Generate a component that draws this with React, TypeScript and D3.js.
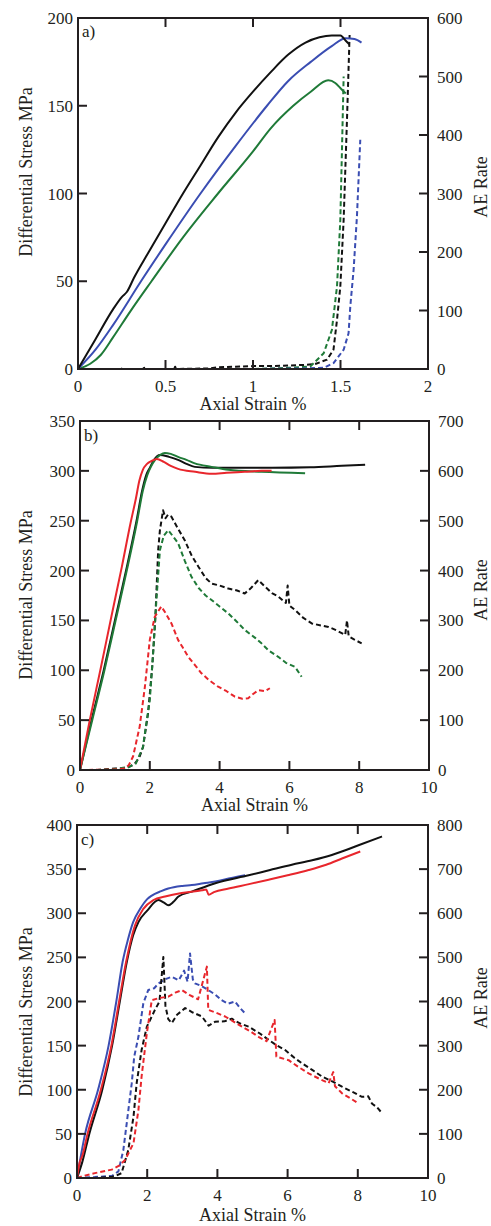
import React from "react";
import * as d3 from "d3";

type Pt = [number, number];

// ---------- colours ----------
const BLACK = "#111111";
const BLUE = "#3a4db2";
const GREEN = "#1f7a38";
const RED = "#e8262c";

// ---------- panel a ----------
const aXTicks = [0, 0.5, 1, 1.5, 2];
const aStressTicks = [0, 50, 100, 150, 200];
const aAETicks = [0, 100, 200, 300, 400, 500, 600];

const aBlackStress: Pt[] = [[0,0],[0.1,17],[0.2,34],[0.25,41],[0.28,44],[0.32,52],[0.4,66],[0.5,83],[0.6,100],[0.7,116],[0.8,132],[0.9,146],[1.0,158],[1.1,169],[1.2,179],[1.3,186],[1.38,189],[1.45,190],[1.5,190],[1.53,187],[1.55,185]];
const aBlueStress: Pt[] = [[0,0],[0.1,11],[0.2,25],[0.36,50],[0.5,71],[0.7,100],[0.9,127],[1.08,150],[1.2,164],[1.33,175],[1.45,184],[1.53,188.5],[1.58,188],[1.62,186]];
const aGreenStress: Pt[] = [[0,0],[0.07,3],[0.13,8],[0.2,18],[0.3,33],[0.42,50],[0.6,75],[0.8,100],[1.0,124],[1.1,137],[1.23,150],[1.33,158],[1.43,164.5],[1.47,163],[1.5,160],[1.53,157]];

const aBlackAE: Pt[] = [[0,0],[0.25,0],[0.255,4],[0.26,0],[0.37,0],[0.375,5],[0.38,0],[0.55,0],[0.555,4],[0.56,0],[0.75,1],[0.8,3],[0.9,4],[1.0,5],[1.1,5],[1.2,6],[1.3,7],[1.36,9],[1.423,16],[1.46,33],[1.48,84],[1.499,141],[1.518,255],[1.537,426],[1.552,571]];
const aGreenAE: Pt[] = [[0,0],[0.5,0],[1.0,0],[1.2,2],[1.327,4],[1.404,27],[1.451,67],[1.48,141],[1.499,255],[1.508,369],[1.518,500]];
const aBlueAE: Pt[] = [[0,0],[0.5,0],[1.0,0],[1.3,1],[1.404,2],[1.46,10],[1.518,33],[1.546,61],[1.556,107],[1.575,170],[1.594,261],[1.613,392]];

// ---------- panel b ----------
const bXTicks = [0, 2, 4, 6, 8, 10];
const bStressTicks = [0, 50, 100, 150, 200, 250, 300, 350];
const bAETicks = [0, 100, 200, 300, 400, 500, 600, 700];

const bRedStress: Pt[] = [[0,0],[0.28,50],[0.6,103],[0.9,154],[1.2,204],[1.45,248],[1.6,272],[1.7,290],[1.8,301],[1.92,307],[2.05,310],[2.2,312],[2.4,309],[2.6,305],[2.81,302],[3.3,299],[3.77,297],[4.2,298],[4.72,299],[5.2,300],[5.49,300]];
const bBlackStress: Pt[] = [[0,0],[0.33,50],[0.68,100],[1.0,150],[1.32,200],[1.62,250],[1.78,280],[1.9,296],[2.0,303],[2.12,311],[2.29,316],[2.55,314],[2.81,311],[3.05,307],[3.29,304],[3.8,303],[4.5,303],[5.5,303],[6.6,303.5],[7.5,305],[8.17,306]];
const bGreenStress: Pt[] = [[0,0],[0.35,50],[0.7,100],[1.02,150],[1.34,200],[1.64,250],[1.8,280],[1.93,296],[2.03,304],[2.15,311],[2.3,316],[2.43,318],[2.6,317],[2.81,314],[3.05,311],[3.29,307.5],[3.77,304],[4.25,301],[5.2,299],[6.45,297.5]];

const bBlackAE: Pt[] = [[0,0],[0.5,0],[0.8,2],[1.0,3],[1.19,3],[1.4,6],[1.57,13],[1.7,25],[1.81,47],[1.95,114],[2.07,207],[2.16,307],[2.24,441],[2.29,481],[2.38,521],[2.45,505],[2.52,512],[2.62,508],[2.8,485],[3.0,461],[3.2,430],[3.39,408],[3.6,385],[3.77,374],[4.0,370],[4.25,364],[4.5,360],[4.72,354],[4.9,365],[5.11,381],[5.3,368],[5.5,355],[5.68,348],[5.9,335],[5.95,370],[6.0,330],[6.16,321],[6.4,305],[6.64,294],[6.9,290],[7.12,287],[7.35,280],[7.6,271],[7.65,300],[7.7,268],[7.85,262],[8.07,254]];
const bGreenAE: Pt[] = [[0,0],[0.5,0],[1.0,2],[1.4,6],[1.6,13],[1.8,45],[2.0,140],[2.1,240],[2.19,341],[2.29,441],[2.4,470],[2.53,481],[2.65,470],[2.81,455],[3.0,420],[3.19,388],[3.4,365],[3.6,350],[3.77,341],[4.0,328],[4.25,314],[4.5,297],[4.72,281],[5.0,266],[5.2,254],[5.4,240],[5.68,227],[5.9,215],[6.16,207],[6.35,187]];
const bRedAE: Pt[] = [[0,0],[1.0,1],[1.28,3],[1.4,10],[1.52,27],[1.71,87],[1.86,167],[2.0,261],[2.14,307],[2.33,328],[2.45,315],[2.62,294],[2.81,261],[2.95,245],[3.1,227],[3.3,210],[3.48,194],[3.7,180],[3.96,167],[4.2,158],[4.44,147],[4.65,143],[4.82,144],[4.95,152],[5.11,160],[5.3,158],[5.44,164]];

// ---------- panel c ----------
const cXTicks = [0, 2, 4, 6, 8, 10];
const cStressTicks = [0, 50, 100, 150, 200, 250, 300, 350, 400];
const cAETicks = [0, 100, 200, 300, 400, 500, 600, 700, 800];

const cBlueStress: Pt[] = [[0,0],[0.23,50],[0.6,100],[0.9,150],[1.12,200],[1.3,245],[1.45,270],[1.6,290],[1.8,305],[2.0,316],[2.13,320],[2.4,325],[2.6,328],[3.0,331],[3.27,332],[3.6,334],[3.94,336],[4.4,340],[4.79,343]];
const cBlackStress: Pt[] = [[0,0],[0.15,18],[0.35,50],[0.72,100],[1.0,150],[1.22,200],[1.42,245],[1.6,275],[1.75,290],[2.0,303],[2.32,315],[2.48,312],[2.6,309],[2.75,313],[2.89,319],[3.27,324.5],[3.94,334],[4.89,343],[5.5,349],[6.12,355],[6.7,360],[7.26,366],[8.02,377],[8.69,387]];
const cRedStress: Pt[] = [[0,0],[0.08,18],[0.15,25],[0.3,50],[0.68,100],[0.98,150],[1.2,200],[1.4,245],[1.65,286],[1.89,305],[2.18,315],[2.51,319],[2.98,323],[3.56,326],[3.68,327],[3.75,321],[3.9,324],[4.32,328],[4.9,333],[5.46,338],[6.0,343],[6.6,349],[7.1,355],[7.55,362],[8.07,370]];

const cBlueAE: Pt[] = [[0,0],[0.5,2],[1.0,5],[1.18,15],[1.32,63],[1.44,139],[1.56,215],[1.63,275],[1.75,320],[1.89,396],[2.03,426],[2.2,430],[2.32,441],[2.5,450],[2.7,456],[2.9,448],[3.05,470],[3.15,445],[3.22,509],[3.3,450],[3.36,441],[3.55,435],[3.74,426],[3.95,415],[4.12,403],[4.3,395],[4.5,400],[4.65,385],[4.79,373]];
const cBlackAE: Pt[] = [[0,0],[0.5,0],[1.0,3],[1.1,5],[1.27,11],[1.46,63],[1.61,139],[1.7,215],[1.84,290],[1.99,343],[2.22,381],[2.35,400],[2.46,501],[2.52,390],[2.6,360],[2.7,351],[2.85,370],[3.08,385],[3.3,375],[3.56,366],[3.75,345],[3.93,354],[4.2,355],[4.41,361],[4.65,350],[4.89,343],[5.2,328],[5.46,313],[5.7,300],[5.93,290],[6.2,272],[6.41,260],[6.7,245],[6.98,230],[7.3,218],[7.55,207],[7.85,195],[8.12,184],[8.3,185],[8.4,169],[8.55,160],[8.69,147]];
const cRedAE: Pt[] = [[0,0],[0.2,5],[0.51,11],[0.99,19],[1.2,28],[1.37,41],[1.61,79],[1.75,154],[1.84,230],[1.99,328],[2.13,403],[2.35,408],[2.6,411],[2.8,420],[2.99,426],[3.2,415],[3.45,405],[3.7,479],[3.74,381],[3.95,375],[4.22,366],[4.45,355],[4.7,343],[4.95,332],[5.17,320],[5.4,310],[5.63,358],[5.68,275],[6.03,267],[6.3,252],[6.6,237],[6.9,225],[7.17,215],[7.3,240],[7.35,208],[7.55,192],[7.8,180],[8.02,169]];

// ---------- rendering ----------
const FONT = "'Liberation Serif', 'Times New Roman', serif";
const TEXT = "#231f20";

interface Series { data: Pt[]; color: string; dashed: boolean; right: boolean; }
interface PanelCfg {
  left: number; right: number; top: number; bottom: number;
  xTicks: number[]; yTicks: number[]; y2Ticks: number[];
  tag: string; tagY: number; xTitleY: number; yTitleY: number; y2TitleY: number;
  series: Series[];
}

function Panel({ cfg }: { cfg: PanelCfg }) {
  const xMax = cfg.xTicks[cfg.xTicks.length - 1];
  const yMax = cfg.yTicks[cfg.yTicks.length - 1];
  const y2Max = cfg.y2Ticks[cfg.y2Ticks.length - 1];
  const x = d3.scaleLinear().domain([0, xMax]).range([cfg.left, cfg.right]);
  const y = d3.scaleLinear().domain([0, yMax]).range([cfg.bottom, cfg.top]);
  const y2 = d3.scaleLinear().domain([0, y2Max]).range([cfg.bottom, cfg.top]);
  const TL = 9;
  const clipId = "clip-" + cfg.tag.replace(")", "");
  return (
    <g>
      <defs>
        <clipPath id={clipId}>
          <rect x={cfg.left} y={cfg.top} width={cfg.right - cfg.left} height={cfg.bottom - cfg.top} />
        </clipPath>
      </defs>
      <g clipPath={`url(#${clipId})`}>
        {cfg.series.map((s, i) => {
          const ys = s.right ? y2 : y;
          const line = d3.line<Pt>().x(d => x(d[0])).y(d => ys(d[1]))
            .curve(s.dashed ? d3.curveLinear : d3.curveMonotoneX);
          return (
            <path key={i} d={line(s.data) || ""} fill="none" stroke={s.color}
              strokeWidth={2} strokeDasharray={s.dashed ? "5,3" : undefined}
              strokeLinejoin="round" />
          );
        })}
      </g>
      <rect x={cfg.left} y={cfg.top} width={cfg.right - cfg.left} height={cfg.bottom - cfg.top}
        fill="none" stroke={TEXT} strokeWidth={2} />
      {cfg.xTicks.slice(1, -1).map(t => (
        <g key={"xt" + t}>
          <line x1={x(t)} x2={x(t)} y1={cfg.bottom} y2={cfg.bottom - TL} stroke={TEXT} strokeWidth={2} />
          <line x1={x(t)} x2={x(t)} y1={cfg.top} y2={cfg.top + TL} stroke={TEXT} strokeWidth={2} />
        </g>
      ))}
      {cfg.yTicks.slice(1, -1).map(t => (
        <line key={"yt" + t} x1={cfg.left} x2={cfg.left + TL} y1={y(t)} y2={y(t)} stroke={TEXT} strokeWidth={2} />
      ))}
      {cfg.y2Ticks.slice(1, -1).map(t => (
        <line key={"y2t" + t} x1={cfg.right} x2={cfg.right - TL} y1={y2(t)} y2={y2(t)} stroke={TEXT} strokeWidth={2} />
      ))}
      <g fontFamily={FONT} fontSize={17} fill={TEXT}>
        {cfg.xTicks.map(t => (
          <text key={"xl" + t} x={x(t)} y={cfg.bottom + 23} textAnchor="middle">{String(t)}</text>
        ))}
        {cfg.yTicks.map(t => (
          <text key={"yl" + t} x={cfg.left - 5} y={y(t) + 6} textAnchor="end">{String(t)}</text>
        ))}
        {cfg.y2Ticks.map(t => (
          <text key={"y2l" + t} x={cfg.right + 9} y={y2(t) + 6} textAnchor="start">{String(t)}</text>
        ))}
        <text x={cfg.left + 4} y={cfg.tagY}>{cfg.tag}</text>
      </g>
      <g fontFamily={FONT} fontSize={18} fill={TEXT}>
        <text x={(cfg.left + cfg.right) / 2} y={cfg.xTitleY} textAnchor="middle">Axial Strain %</text>
        <text transform={`translate(32,${cfg.yTitleY}) rotate(-90)`} textAnchor="middle">Differential Stress MPa</text>
        <text transform={`translate(487,${cfg.y2TitleY}) rotate(-90)`} textAnchor="middle">AE Rate</text>
      </g>
    </g>
  );
}

const panels: PanelCfg[] = [
  {
    left: 78, right: 428, top: 18, bottom: 369,
    xTicks: aXTicks, yTicks: aStressTicks, y2Ticks: aAETicks,
    tag: "a)", tagY: 37, xTitleY: 410, yTitleY: 172, y2TitleY: 187,
    series: [
      { data: aBlackAE, color: BLACK, dashed: true, right: true },
      { data: aGreenAE, color: GREEN, dashed: true, right: true },
      { data: aBlueAE, color: BLUE, dashed: true, right: true },
      { data: aGreenStress, color: GREEN, dashed: false, right: false },
      { data: aBlueStress, color: BLUE, dashed: false, right: false },
      { data: aBlackStress, color: BLACK, dashed: false, right: false },
    ],
  },
  {
    left: 80, right: 429, top: 421, bottom: 770,
    xTicks: bXTicks, yTicks: bStressTicks, y2Ticks: bAETicks,
    tag: "b)", tagY: 441, xTitleY: 811, yTitleY: 595, y2TitleY: 590,
    series: [
      { data: bBlackAE, color: BLACK, dashed: true, right: true },
      { data: bGreenAE, color: GREEN, dashed: true, right: true },
      { data: bRedAE, color: RED, dashed: true, right: true },
      { data: bBlackStress, color: BLACK, dashed: false, right: false },
      { data: bGreenStress, color: GREEN, dashed: false, right: false },
      { data: bRedStress, color: RED, dashed: false, right: false },
    ],
  },
  {
    left: 77, right: 428, top: 825, bottom: 1178,
    xTicks: cXTicks, yTicks: cStressTicks, y2Ticks: cAETicks,
    tag: "c)", tagY: 845, xTitleY: 1221, yTitleY: 1012, y2TitleY: 998,
    series: [
      { data: cBlueAE, color: BLUE, dashed: true, right: true },
      { data: cBlackAE, color: BLACK, dashed: true, right: true },
      { data: cRedAE, color: RED, dashed: true, right: true },
      { data: cBlueStress, color: BLUE, dashed: false, right: false },
      { data: cBlackStress, color: BLACK, dashed: false, right: false },
      { data: cRedStress, color: RED, dashed: false, right: false },
    ],
  },
];

export default function App() {
  return (
    <svg width={491} height={1226} viewBox="0 0 491 1226"
      style={{ position: "absolute", left: 0, top: 0, background: "#fff" }}>
      <rect x={0} y={0} width={491} height={1226} fill="#fff" />
      {panels.map((p, i) => <Panel key={i} cfg={p} />)}
    </svg>
  );
}
